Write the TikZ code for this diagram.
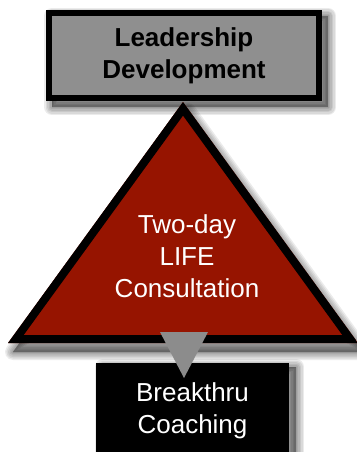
\documentclass[tikz,border=0pt]{standalone}
\usepackage{fontspec}
\setmainfont{Liberation Sans}
\usetikzlibrary{calc,positioning}
\definecolor{boxgray}{RGB}{143,143,143}
\definecolor{lifered}{RGB}{150,20,0}
\definecolor{arrowgray}{RGB}{140,140,140}

\tikzset{
  softshadow/.style={draw=black,fill=black,opacity=0.08,line join=round},
  labeltext/.style={font=\fontsize{26}{32}\selectfont,align=center,inner sep=0pt},
}

\begin{document}
\begin{tikzpicture}[x=1pt,y=1pt]
    \useasboundingbox (0,0) rectangle (356,-452);

    % corners of the big triangle
    \coordinate (T) at (183,-102);
    \coordinate (L) at (8,-343);
    \coordinate (R) at (358,-343);

    % top box
    \node[draw=black,fill=boxgray,line width=6pt,minimum width=270,minimum height=85,
      labeltext,font=\fontsize{26}{32}\selectfont\bfseries] (lead) at (184,-55.5) {};
    \foreach \w in {16,13,10,7,4,1}
      \path[softshadow,line width=\w] ($(lead.south west)+(6,-6)$) rectangle ($(lead.north east)+(6,-6)$);
    \node[draw=black,fill=boxgray,line width=6pt,minimum width=270,minimum height=85,
      labeltext,font=\fontsize{26}{32}\selectfont\bfseries] at (lead) {Leadership\\Development};

    % big triangle with its shadow
    \foreach \w in {16,13,10,7,4,1}
      \path[softshadow,line width=\w] ($(T)+(5,-9)$) -- ($(L)+(5,-9)$) -- ($(R)+(5,-9)$) -- cycle;
    \fill[lifered] (T) -- (L) -- (R) -- cycle;
    \begin{scope}
      \clip (T) -- (L) -- (R) -- cycle;
      \draw[line width=16pt,line join=miter] (T) -- (L) -- (R) -- cycle;
    \end{scope}
    \node[labeltext,text=white] (life) at (187,-256) {Two-day\\LIFE\\Consultation};

    % bottom box, running off the lower edge
    \coordinate (cpos) at (192.5,-411);
    \foreach \w in {16,13,10,7,4,1}
      \path[softshadow,line width=\w] ($(cpos)+(-96.5+7,-48-4)$) rectangle ($(cpos)+(96.5+7,48-4)$);
    \node[fill=black,minimum width=193,minimum height=96,labeltext,text=white] (coach) at (cpos) {Breakthru\\Coaching};

    % arrow from the triangle down into the box
    \coordinate (A1) at (160,-332);
    \coordinate (A2) at (208,-332);
    \coordinate (A3) at (184,-378);
    \fill[arrowgray] (A1) -- (A2) -- (A3) -- cycle;
  \end{tikzpicture}
\end{document}
